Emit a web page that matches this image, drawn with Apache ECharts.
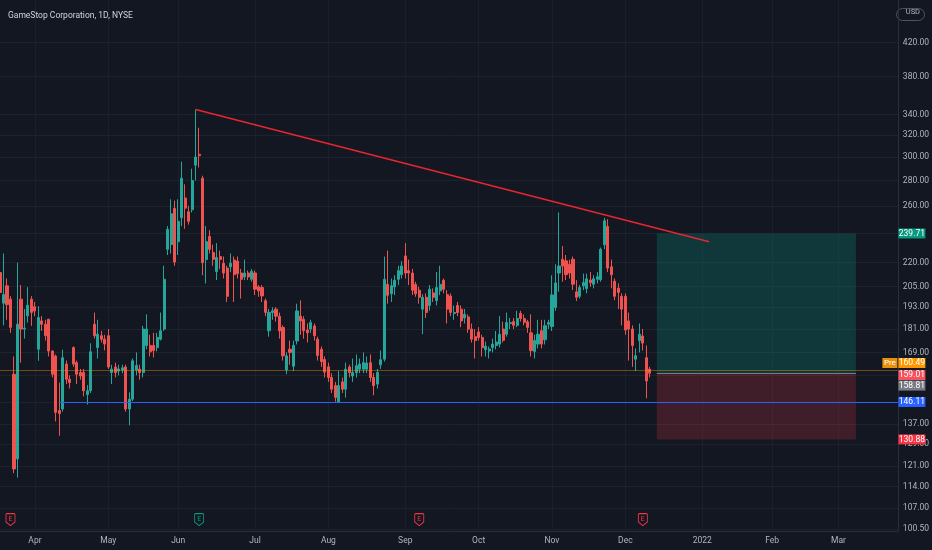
<!DOCTYPE html>
<html>
<head>
<meta charset="utf-8">
<title>GameStop Corporation, 1D, NYSE</title>
<script src="https://cdn.jsdelivr.net/npm/echarts@6/dist/echarts.min.js"></script>
<style>
  html, body { margin: 0; padding: 0; background: #131722; }
  #chart { width: 932px; height: 550px; }
</style>
</head>
<body>
<div id="chart"></div>
<script>
// Session calendar (first bar .. last empty future slot)
const firstDay = '2021-03-18';
const lastDay = '2022-03-24';
const holidays = ['2021-04-02', '2021-05-31', '2021-07-05', '2021-09-06',
  '2021-11-25', '2021-12-24', '2022-01-17', '2022-02-21'];

// Daily bars, 2021-03-18 .. 2021-12-10
const opens = [
  213.7, 195.3, 205.5, 197.6, 158.5, 123.6, 197.6, 181.0, 188.2, 197.6,
  193.3, 170.6, 185.4, 183.6, 186.3, 169.7, 167.2, 142.5, 143.1, 163.3,
  156.2, 171.4, 164.0, 159.3, 159.3, 149.3, 151.0, 183.6, 171.4, 177.5,
  175.7, 177.5, 159.3, 161.9, 160.0, 160.5, 161.9, 143.1, 147.3, 160.5,
  160.9, 159.3, 172.5, 172.5, 172.5, 171.4, 175.7, 181.0, 228.8, 232.0,
  258.0, 234.0, 251.0, 266.0, 255.5, 257.0, 293.0, 302.5, 282.0, 222.0,
  237.6, 226.6, 214.4, 224.0, 219.6, 216.5, 217.3, 221.7, 221.0, 213.4,
  211.0, 213.4, 209.5, 213.4, 204.9, 204.5, 196.7, 180.1, 190.0, 191.9,
  188.0, 181.9, 160.5, 170.6, 162.3, 174.8, 188.0, 186.3, 180.5, 181.0,
  182.7, 175.7, 170.6, 165.5, 162.0, 157.0, 153.3, 146.2, 155.0, 151.7,
  161.9, 157.7, 159.3, 160.9, 160.9, 160.9, 164.0, 157.0, 154.0, 163.0,
  165.7, 206.4, 200.8, 204.9, 209.5, 212.4, 224.4, 214.9, 213.4, 206.4,
  202.9, 191.9, 198.7, 194.0, 201.3, 196.8, 202.5, 208.9, 200.3, 199.4,
  189.5, 194.0, 191.9, 187.0, 187.6, 181.0, 177.0, 179.5, 176.6, 170.4,
  169.7, 171.4, 172.5, 173.2, 181.0, 178.3, 184.0, 185.0, 183.0, 189.6,
  186.7, 184.9, 179.0, 169.5, 173.2, 180.1, 175.4, 183.6, 182.4, 192.9,
  213.4, 222.2, 221.2, 219.0, 222.2, 201.9, 199.3, 205.5, 203.9, 209.0,
  206.5, 209.5, 209.3, 231.9, 244.7, 217.3, 208.3, 204.1, 199.3, 199.3,
  185.4, 181.0, 165.7, 175.0, 177.3, 166.4, 160.9
];
const highs = [
  218.0, 226.0, 210.0, 199.4, 167.0, 220.0, 206.0, 192.0, 204.7, 199.4,
  196.0, 193.6, 188.0, 186.0, 186.5, 170.0, 168.0, 154.7, 170.3, 165.0,
  158.0, 172.0, 165.0, 161.0, 161.0, 153.5, 173.6, 190.0, 186.0, 180.0,
  178.0, 181.0, 163.0, 164.0, 163.0, 163.0, 163.0, 150.3, 166.0, 169.0,
  163.0, 182.7, 189.0, 178.0, 179.0, 179.0, 190.0, 218.0, 245.0, 265.0,
  264.0, 265.0, 296.0, 277.0, 260.0, 290.0, 345.0, 327.0, 284.0, 245.0,
  242.0, 232.0, 233.0, 228.0, 224.0, 218.0, 226.0, 224.0, 224.0, 216.0,
  222.0, 215.0, 216.0, 215.0, 206.0, 206.0, 198.0, 192.0, 193.0, 193.0,
  190.0, 183.0, 169.0, 175.0, 175.0, 195.0, 197.0, 188.0, 184.0, 186.0,
  184.0, 177.0, 172.0, 167.0, 164.0, 159.0, 155.0, 160.0, 157.0, 164.0,
  163.0, 166.0, 168.0, 166.0, 169.0, 167.0, 168.0, 159.0, 161.0, 170.0,
  224.0, 228.0, 210.0, 212.0, 218.0, 221.0, 233.0, 222.0, 216.0, 208.0,
  205.0, 200.5, 201.0, 206.0, 204.0, 214.0, 218.0, 210.0, 203.0, 201.0,
  194.0, 196.0, 194.0, 192.0, 189.0, 184.0, 181.0, 182.0, 178.0, 174.5,
  172.0, 176.0, 180.0, 188.0, 185.0, 190.0, 187.0, 187.0, 191.0, 191.0,
  189.0, 186.0, 189.0, 178.0, 186.0, 186.0, 186.0, 186.0, 212.0, 219.0,
  255.0, 231.0, 225.0, 222.0, 224.0, 209.0, 206.0, 213.0, 213.0, 214.0,
  212.0, 214.0, 230.0, 251.0, 250.0, 222.0, 210.0, 207.0, 201.0, 201.0,
  190.0, 183.0, 171.0, 184.0, 181.0, 172.5, 162.0
];
const lows = [
  196.0, 183.0, 186.0, 179.0, 118.5, 117.0, 164.0, 176.0, 184.5, 182.7,
  188.0, 164.9, 180.0, 175.0, 167.0, 157.0, 138.0, 132.3, 142.0, 154.0,
  152.0, 162.0, 154.0, 156.0, 148.5, 145.0, 150.0, 176.0, 166.0, 174.0,
  170.0, 161.0, 154.0, 157.0, 158.0, 159.0, 142.0, 136.4, 146.5, 158.0,
  156.0, 157.0, 170.6, 167.0, 166.5, 169.5, 175.0, 180.0, 225.0, 226.0,
  218.0, 225.0, 245.0, 243.0, 246.0, 255.0, 280.0, 291.0, 212.0, 207.0,
  226.0, 218.0, 209.0, 216.0, 210.0, 196.0, 214.0, 196.0, 210.0, 198.0,
  209.0, 209.0, 208.0, 200.0, 199.0, 196.0, 188.0, 177.0, 186.0, 185.0,
  176.0, 165.0, 158.5, 163.0, 160.0, 173.0, 178.0, 176.0, 174.0, 179.0,
  175.0, 165.0, 162.0, 157.0, 155.0, 150.0, 146.2, 145.6, 150.0, 148.0,
  157.0, 155.0, 157.0, 159.0, 159.0, 159.0, 155.0, 149.0, 152.0, 161.0,
  164.5, 195.0, 196.0, 200.0, 206.0, 210.0, 210.0, 206.0, 200.0, 199.0,
  195.0, 178.3, 187.0, 191.0, 196.0, 194.0, 200.0, 201.0, 184.0, 188.0,
  186.0, 188.0, 182.0, 184.0, 179.0, 174.0, 166.0, 175.0, 167.0, 167.0,
  166.0, 169.0, 170.5, 171.5, 174.0, 177.0, 181.0, 181.0, 182.0, 185.0,
  183.0, 179.0, 167.0, 166.0, 171.0, 171.0, 173.0, 181.0, 180.0, 191.0,
  202.0, 208.0, 209.0, 210.0, 203.0, 196.5, 198.0, 203.0, 201.0, 205.0,
  204.0, 207.0, 208.0, 229.0, 214.0, 204.0, 197.0, 192.0, 183.0, 178.0,
  165.0, 162.0, 160.0, 169.0, 170.0, 147.7, 157.0
];
const closes = [
  201.5, 200.3, 194.5, 181.9, 120.0, 183.6, 181.0, 181.5, 194.1, 190.1,
  190.9, 187.2, 183.6, 177.5, 169.7, 158.5, 141.7, 141.2, 166.4, 156.2,
  154.7, 163.3, 158.5, 157.7, 151.0, 151.0, 169.3, 177.5, 178.3, 175.7,
  173.2, 161.9, 160.9, 159.3, 161.0, 161.5, 143.1, 147.3, 164.9, 162.6,
  159.3, 181.0, 181.0, 169.3, 170.0, 176.6, 180.1, 209.5, 242.6, 254.0,
  220.4, 248.4, 282.0, 258.2, 248.4, 280.0, 300.0, 301.3, 220.0, 234.0,
  228.8, 222.2, 223.3, 222.0, 213.4, 199.3, 219.6, 212.4, 213.0, 209.5,
  213.4, 211.0, 214.5, 203.5, 202.5, 199.5, 190.1, 190.1, 191.0, 188.0,
  180.0, 167.3, 167.3, 169.0, 172.5, 190.9, 185.4, 180.1, 179.0, 184.5,
  177.5, 167.5, 164.5, 159.5, 157.0, 151.7, 148.1, 153.3, 151.7, 160.9,
  159.3, 159.3, 162.5, 163.3, 164.0, 163.8, 157.0, 153.3, 159.3, 165.4,
  209.5, 199.9, 205.5, 208.9, 214.9, 217.9, 213.4, 213.4, 202.9, 200.8,
  198.7, 198.7, 190.1, 203.5, 198.7, 204.5, 206.4, 203.5, 191.9, 190.1,
  190.0, 190.0, 185.4, 189.0, 181.0, 175.7, 175.0, 176.6, 171.4, 172.1,
  170.7, 173.2, 174.2, 178.3, 175.1, 184.5, 184.5, 183.0, 186.7, 186.7,
  184.6, 181.9, 169.9, 175.0, 178.3, 173.2, 182.8, 184.5, 200.1, 207.3,
  217.8, 217.8, 212.4, 213.4, 206.5, 198.7, 204.5, 207.5, 209.8, 207.5,
  209.8, 211.1, 228.8, 248.8, 216.5, 212.4, 199.3, 201.6, 191.9, 180.5,
  181.0, 172.5, 167.4, 178.3, 173.7, 155.4, 159.01
];

// Price scale: grid levels, and the labels that are not hidden by tags
const priceGrid = [100.5, 107, 114, 121, 129, 137, 146, 158, 169, 181, 193,
  205, 220, 240, 260, 280, 300, 320, 340, 380, 420];
const priceLabels = [100.5, 107, 114, 121, 129, 137, 169, 181, 193,
  205, 220, 260, 280, 300, 320, 340, 380, 420];

// Drawings on the chart
const trendDays = ['2021-06-08', '2022-01-05'];
const trendPrices = [345.0, 234.0];
const supportDay = '2021-04-13';
const supportPrice = 146.11;
const prePrice = 160.49;
const boxDays = ['2021-12-14', '2022-03-08'];
const targetPrice = 239.71;
const entryPrice = 158.81;
const stopPrice = 130.88;
const lastPrice = 159.01;
const earningsDays = ['2021-03-23', '2021-06-09', '2021-09-08', '2021-12-08'];
const earningsBeat = [false, true, false, false];

// Build the trading-day categories
const skip = new Set(holidays);
const dates = [];
for (let d = new Date(firstDay + 'T00:00:00Z'); d <= new Date(lastDay + 'T00:00:00Z');
  d.setUTCDate(d.getUTCDate() + 1)) {
  const wd = d.getUTCDay();
  const s = d.toISOString().slice(0, 10);
  if (wd === 0 || wd === 6 || skip.has(s)) continue;
  dates.push(s);
}
const lastDate = dates[dates.length - 1];

const months = ['Jan', 'Feb', 'Mar', 'Apr', 'May', 'Jun', 'Jul', 'Aug', 'Sep', 'Oct', 'Nov', 'Dec'];
const isMonthStart = (idx) => idx > 0 && dates[idx].slice(5, 7) !== dates[idx - 1].slice(5, 7);

const font = "'Liberation Sans Narrow', 'Roboto', sans-serif";
const textColor = '#b2b5be';
const upColor = '#26a69a';
const downColor = '#ef5350';

const candles = opens.map((o, i) => [o, closes[i], lows[i], highs[i]]);

// Price tags on the right scale
function tag(price, color, dy, text) {
  return {
    coord: [lastDate, price],
    symbol: 'rect',
    symbolSize: [27, 10],
    symbolOffset: [14, dy],
    itemStyle: { color: color },
    label: {
      show: true, position: 'inside', formatter: text || price.toFixed(2),
      color: '#ffffff', fontSize: 8.5, fontFamily: font
    }
  };
}

const shield = 'path://M0,1 Q0,0 1,0 L9,0 Q10,0 10,1 L10,9 L5,13 L0,9 Z';
const earningsMarks = earningsDays.map((day, i) => {
  const c = earningsBeat[i] ? '#089981' : '#f23645';
  return {
    coord: [day, 103.4],
    symbol: shield,
    symbolSize: [9, 12],
    itemStyle: { color: '#131722', borderColor: c, borderWidth: 1 },
    label: { show: true, position: 'inside', formatter: 'E', color: c, fontSize: 7, fontFamily: font }
  };
});

const chart = echarts.init(document.getElementById('chart'));

const option = {
  backgroundColor: '#131722',
  animation: false,
  title: {
    text: 'GameStop Corporation, 1D, NYSE',
    left: 3, top: 6,
    textStyle: { color: '#d1d4dc', fontSize: 8.5, fontWeight: 'normal', fontFamily: font }
  },
  graphic: [
    {
      type: 'rect', right: 5, top: 6,
      shape: { width: 28, height: 12, r: 6 },
      style: { fill: 'none', stroke: '#50535e', lineWidth: 1 }
    },
    {
      type: 'text', right: 12, top: 8.5,
      style: { text: 'USD', fill: textColor, fontSize: 7.5, fontFamily: font }
    }
  ],
  grid: { left: 0, right: 29, top: 0, bottom: 19 },
  xAxis: {
    type: 'category',
    data: dates,
    boundaryGap: false,
    axisLine: { show: true, lineStyle: { color: '#2a2e39' } },
    axisTick: { show: false },
    axisLabel: {
      interval: isMonthStart,
      formatter: (v) => (v.slice(5, 7) === '01' ? v.slice(0, 4) : months[+v.slice(5, 7) - 1]),
      color: textColor, fontSize: 8.5, fontFamily: font, margin: 5
    },
    splitLine: { show: true, interval: isMonthStart, lineStyle: { color: '#1b1f2b' } }
  },
  yAxis: {
    type: 'log',
    position: 'right',
    min: 100,
    max: 476,
    axisLine: { show: true, lineStyle: { color: '#2a2e39' } },
    axisTick: { show: false, customValues: priceGrid },
    axisLabel: {
      customValues: priceLabels,
      formatter: (v) => v.toFixed(2),
      color: textColor, fontSize: 8.5, fontFamily: font, margin: 5
    },
    splitLine: { show: true, lineStyle: { color: '#1e222d' } }
  },
  series: [
    {
      type: 'candlestick',
      data: candles,
      barWidth: 2.6,
      itemStyle: {
        color: upColor, color0: downColor,
        borderColor: upColor, borderColor0: downColor, borderWidth: 1
      },
      markArea: {
        silent: true,
        data: [
          [
            { coord: [boxDays[0], targetPrice], itemStyle: { color: 'rgba(8,153,129,0.25)' } },
            { coord: [boxDays[1], entryPrice] }
          ],
          [
            { coord: [boxDays[0], entryPrice], itemStyle: { color: 'rgba(242,54,69,0.2)' } },
            { coord: [boxDays[1], stopPrice] }
          ]
        ]
      },
      markLine: {
        silent: true,
        symbol: ['none', 'none'],
        label: { show: false },
        data: [
          [
            { coord: [dates[0], prePrice], lineStyle: { color: 'rgba(255,152,0,0.4)', width: 1, type: 'solid' } },
            { coord: [lastDate, prePrice] }
          ],
          [
            { coord: [boxDays[0], entryPrice], lineStyle: { color: '#787b86', width: 1, type: 'solid' } },
            { coord: [boxDays[1], entryPrice] }
          ],
          [
            { coord: [supportDay, supportPrice], lineStyle: { color: '#2962ff', width: 1, type: 'solid' } },
            { coord: [lastDate, supportPrice] }
          ],
          [
            { coord: [trendDays[0], trendPrices[0]], lineStyle: { color: '#e8262f', width: 1.5, type: 'solid' } },
            { coord: [trendDays[1], trendPrices[1]] }
          ]
        ]
      },
      markPoint: {
        silent: true,
        data: earningsMarks.concat([
          tag(targetPrice, '#089981', 0),
          {
            coord: [lastDate, prePrice],
            symbol: 'rect', symbolSize: [15, 10], symbolOffset: [-8, -7],
            itemStyle: { color: '#e8900c' },
            label: { show: true, position: 'inside', formatter: 'Pre', color: '#ffffff', fontSize: 8, fontFamily: font }
          },
          tag(prePrice, '#ff9800', -7),
          tag(lastPrice, '#f7525f', 2),
          tag(entryPrice, '#787b86', 12),
          tag(supportPrice, '#2962ff', 0),
          tag(stopPrice, '#f23645', 0)
        ])
      }
    }
  ]
};

chart.setOption(option);

window.addEventListener('resize', () => {
  chart.resize();
});
</script>
</body>
</html>
